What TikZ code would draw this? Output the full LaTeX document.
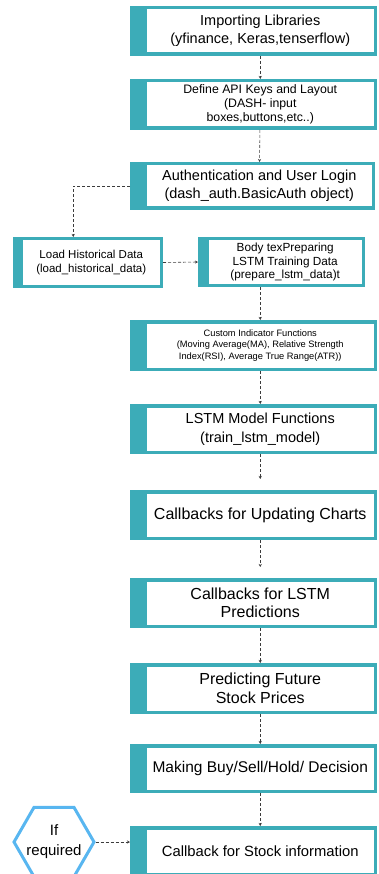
\documentclass[tikz,border=0pt]{standalone}
\usepackage{fontspec}
\setmainfont{Liberation Sans}
\usetikzlibrary{shapes.geometric,arrows.meta}
\definecolor{stageteal}{RGB}{60,172,184}
\definecolor{hexblue}{RGB}{88,182,240}
\definecolor{flowgray}{RGB}{60,60,60}
\tikzset{
  stage/.style={draw=stageteal, line width=3.5pt, fill=white, align=center, inner sep=1pt,
    minimum width=230pt, minimum height=46.5pt,
    append after command={\pgfextra{\fill[stageteal] (\tikzlastnode.north west) rectangle ([xshift=-#1]\tikzlastnode.south west);}}},
  stage/.default=13.5,
  flow/.style={draw=flowgray, line width=0.6pt, densely dashed, -{Stealth[length=3pt,width=3pt]}},
}
\begin{document}
\begin{tikzpicture}[x=1pt,y=-1pt]
\useasboundingbox (0,0) rectangle (378,874);

\node[stage, font=\fontsize{14.5}{17.5}\selectfont] (imp) at (260.25,31) {Importing Libraries\\(yfinance, Keras,tenserflow)};
\node[stage, minimum height=47.5pt, font=\fontsize{12.3}{14.3}\selectfont] (api) at (260.25,104.5) {Define API Keys and Layout\\(DASH- input\\boxes,buttons,etc..)};
\node[stage, minimum width=228pt, minimum height=44.5pt, font=\fontsize{14.5}{18}\selectfont] (auth) at (259.25,186) {Authentication and User Login\\(dash\_auth.BasicAuth object)};
\node[stage=6.5, minimum width=140pt, minimum height=47.5pt, font=\fontsize{11.5}{14.5}\selectfont] (load) at (91.25,262.5) {Load Historical Data\\(load\_historical\_data)};
\node[stage=7.5, minimum width=156pt, font=\fontsize{11.8}{13.8}\selectfont] (body) at (285.25,262) {Body texPreparing\\LSTM Training Data\\(prepare\_lstm\_data)t};
\node[stage, minimum height=47.5pt, font=\fontsize{9.3}{11.2}\selectfont] (ind) at (260.25,345.5) {Custom Indicator Functions\\(Moving Average(MA), Relative Strength\\Index(RSI), Average True Range(ATR))};
\node[stage, font=\fontsize{14.5}{19}\selectfont] (model) at (260.25,429) {LSTM Model Functions\\(train\_lstm\_model)};
\node[stage, font=\fontsize{16}{18}\selectfont] (charts) at (260.25,515) {Callbacks for Updating Charts};
\node[stage, font=\fontsize{16}{18.5}\selectfont] (preds) at (260.25,603) {Callbacks for LSTM\\Predictions};
\node[stage, minimum height=47.5pt, font=\fontsize{16}{18.5}\selectfont] (future) at (260.25,688.5) {Predicting Future\\Stock Prices};
\node[stage, minimum height=45.5pt, font=\fontsize{15.5}{18}\selectfont] (decide) at (260.25,768.5) {Making Buy/Sell/Hold/ Decision};
\node[stage, font=\fontsize{14.8}{17}\selectfont] (stock) at (260.25,851) {Callback for Stock information};
\node[draw=hexblue, line width=3pt, regular polygon, regular polygon sides=6, minimum size=80pt, inner sep=-14pt,
  align=center, font=\fontsize{15}{20}\selectfont] (cond) at (54,842) {If\\required};
\coordinate (stockedge) at ([xshift=-13.5]stock.west);

\draw[flow] (imp) -- (api);
\draw[flow] (api) -- (auth);
\draw[flow] ([xshift=-13.5]auth.west) -| ([xshift=-18]load.north);
\draw[flow] (load.east) -- ([xshift=-7.5]body.west);
\draw[flow] (body.south -| ind.north) -- (ind.north);
\draw[flow] (ind) -- (model);
\draw[flow, shorten >=11pt] (model) -- (charts);
\draw[flow, shorten >=11pt] (charts) -- (preds);
\draw[flow] (preds) -- (future);
\draw[flow] (future) -- (decide);
\draw[flow] (decide) -- (stock);
\draw[flow] (cond.east) -- (cond.east -| stockedge);
\end{tikzpicture}
\end{document}
